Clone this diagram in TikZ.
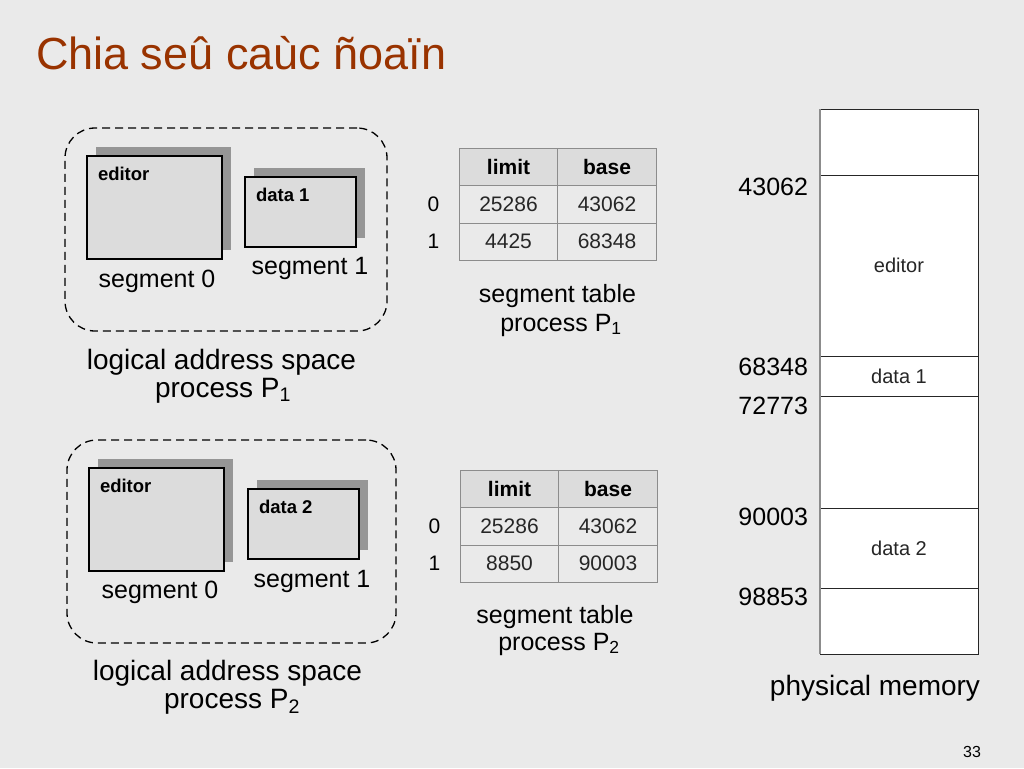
\documentclass[tikz,border=0pt]{standalone}
\usepackage{fontspec}
\setmainfont{Liberation Sans}
\usepackage{tikz}
\usetikzlibrary{shadows}
\usetikzlibrary{positioning}
\usepackage{color}
\definecolor{slidebg}{RGB}{234,234,234}
\definecolor{boxfill}{RGB}{220,220,220}
\definecolor{shadowgray}{RGB}{150,150,150}
\definecolor{rulegray}{RGB}{140,140,140}
\definecolor{titlebrown}{RGB}{153,51,0}
\newcommand{\pxfont}[1]{\fontsize{#1}{#1}\selectfont}
\tikzstyle{every node}=[inner sep=0pt, outer sep=0pt]
\tikzstyle{spacebox}=[rectangle, draw=black, line width=1.3pt, dash pattern=on 8pt off 5pt, rounded corners=30pt]
\tikzstyle{segbox}=[rectangle, draw=black, line width=1.6pt, fill=boxfill, drop shadow={shadow xshift=9pt, shadow yshift=9pt, fill=shadowgray, opacity=1}]
\tikzstyle{seglabel}=[anchor=north west, font=\pxfont{18.5}\bfseries]
\tikzstyle{caption}=[anchor=base, font=\pxfont{25}]
\tikzstyle{bigcaption}=[anchor=base, font=\pxfont{28}]
\tikzstyle{cell}=[rectangle, draw=rulegray, line width=0.8pt, minimum width=98.5pt, minimum height=37.3pt, text=black!85, font=\pxfont{21}]
\tikzstyle{headcell}=[cell, fill=boxfill, text=black, font=\pxfont{21}\bfseries]
\tikzstyle{rowidx}=[font=\pxfont{21}]
\tikzstyle{memcell}=[rectangle, draw=black!85, line width=0.8pt, fill=white, minimum width=158pt, text=black!85, font=\pxfont{20}]
\tikzstyle{addr}=[anchor=north east, font=\pxfont{25}]

\begin{document}
\begin{tikzpicture}[x=1pt, y=-1pt]
		\fill[slidebg] (0,0) rectangle (1024,768);
		\useasboundingbox (0,0) rectangle (1024,768);
		\node[anchor=base west, text=titlebrown, font=\pxfont{45}] (title) at (36,69) {Chia seû caùc ñoaïn};

		\node[spacebox, minimum width=322pt, minimum height=203pt] (space1) at (226,229.5) {};
		\node[segbox, minimum width=135pt, minimum height=103pt] (editor1) at (154.5,207.5) {};
		\node[segbox, minimum width=111pt, minimum height=70pt] (data1) at (300.5,212) {};
		\node[seglabel] (editor1lbl) at ([xshift=11pt, yshift=-11pt]editor1.north west) {editor};
		\node[seglabel] (data1lbl) at ([xshift=11pt, yshift=-11pt]data1.north west) {data 1};
		\node[caption] (seg1a) at (157,287) {segment 0};
		\node[caption] (seg1b) at (310,274) {segment 1};
		\node[bigcaption] (space1a) at (221.5,369) {logical address space};
		\node[bigcaption] (space1b) at (223,397) {process P\textsubscript{1}};

		\node[spacebox, minimum width=329pt, minimum height=203pt] (space2) at (231.5,541.5) {};
		\node[segbox, minimum width=135pt, minimum height=103pt] (editor2) at (156.5,519.5) {};
		\node[segbox, minimum width=111pt, minimum height=70pt] (data2) at (303.5,524) {};
		\node[seglabel] (editor2lbl) at ([xshift=11pt, yshift=-11pt]editor2.north west) {editor};
		\node[seglabel] (data2lbl) at ([xshift=11pt, yshift=-11pt]data2.north west) {data 2};
		\node[caption] (seg2a) at (160,598) {segment 0};
		\node[caption] (seg2b) at (312,587) {segment 1};
		\node[bigcaption] (space2a) at (227.5,680) {logical address space};
		\node[bigcaption] (space2b) at (232,708) {process P\textsubscript{2}};

		\node[headcell] (tab1lim) at (508.5,167) {limit};
		\node[headcell, right=0pt of tab1lim] (tab1base) {base};
		\node[cell, below=0pt of tab1lim] (tab1lim0) {25286};
		\node[cell, below=0pt of tab1base] (tab1base0) {43062};
		\node[cell, below=0pt of tab1lim0] (tab1lim1) {4425};
		\node[cell, below=0pt of tab1base0] (tab1base1) {68348};
		\node[rowidx, left=20pt of tab1lim0] (tab1row0) {0};
		\node[rowidx, left=20pt of tab1lim1] (tab1row1) {1};
		\node[caption] (tab1a) at (557.5,302) {segment table};
		\node[caption] (tab1b) at (561,331) {process P\textsubscript{1}};

		\node[headcell] (tab2lim) at (509.5,489) {limit};
		\node[headcell, right=0pt of tab2lim] (tab2base) {base};
		\node[cell, below=0pt of tab2lim] (tab2lim0) {25286};
		\node[cell, below=0pt of tab2base] (tab2base0) {43062};
		\node[cell, below=0pt of tab2lim0] (tab2lim1) {8850};
		\node[cell, below=0pt of tab2base0] (tab2base1) {90003};
		\node[rowidx, left=20pt of tab2lim0] (tab2row0) {0};
		\node[rowidx, left=20pt of tab2lim1] (tab2row1) {1};
		\node[caption] (tab2a) at (555,623) {segment table};
		\node[caption] (tab2b) at (559,650) {process P\textsubscript{2}};

		\node[memcell, minimum height=66pt] (memtop) at (899,142) {};
		\node[memcell, minimum height=181pt, below=0pt of memtop] (memeditor) {editor};
		\node[memcell, minimum height=40pt, below=0pt of memeditor] (memdata1) {data 1};
		\node[memcell, minimum height=112pt, below=0pt of memdata1] (memhole) {};
		\node[memcell, minimum height=80pt, below=0pt of memhole] (memdata2) {data 2};
		\node[memcell, minimum height=66pt, below=0pt of memdata2] (membottom) {};
		\draw[line width=1.6pt, black!45] (memtop.north west) to (membottom.south west);
		\node[addr] (addr43062) at ([xshift=-12pt, yshift=-3pt]memeditor.north west) {43062};
		\node[addr] (addr68348) at ([xshift=-12pt, yshift=-2pt]memdata1.north west) {68348};
		\node[addr] (addr72773) at ([xshift=-12pt, yshift=-1pt]memhole.north west) {72773};
		\node[addr] (addr90003) at ([xshift=-12pt, yshift=0pt]memdata2.north west) {90003};
		\node[addr] (addr98853) at ([xshift=-12pt, yshift=0pt]membottom.north west) {98853};
		\node[bigcaption] (physmem) at (875,695) {physical memory};

		\node[anchor=base, font=\pxfont{16}] (pageno) at (972,757) {33};
		\end{tikzpicture}
\end{document}
